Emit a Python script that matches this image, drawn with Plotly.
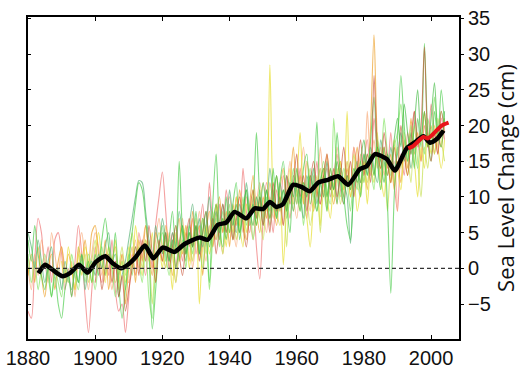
import plotly.graph_objects as go

# ---- data ----
x_ticks = [1880, 1900, 1920, 1940, 1960, 1980, 2000]
y_ticks = [-5, 0, 5, 10, 15, 20, 25, 30, 35]

avg_years = [1883.1, 1885.1, 1887.3, 1890.2, 1892.7, 1895.2, 1897.7, 1900.2, 1903.0, 1905.2,
             1907.7, 1909.7, 1912.1, 1914.8, 1917.3, 1920.1, 1923.6, 1926.6, 1931.0, 1933.5,
             1936.5, 1939.0, 1941.5, 1945.0, 1947.5, 1950.0, 1952.0, 1953.9, 1955.9, 1958.9,
             1961.4, 1963.9, 1966.4, 1969.3, 1972.3, 1975.3, 1978.8, 1980.8, 1983.3, 1986.8,
             1989.2, 1992.7, 1995.6, 1997.7, 1999.7, 2001.7, 2003.7]
avg_level = [-0.7, 0.5, -0.2, -1.1, -0.6, 0.5, -0.6, 0.9, 1.7, 0.7,
             0.0, 0.5, 1.6, 3.2, 1.4, 2.9, 2.3, 3.4, 4.3, 4.0,
             6.1, 6.4, 7.9, 7.0, 8.4, 8.3, 9.3, 8.6, 9.0, 11.7,
             11.4, 10.8, 12.0, 12.4, 12.9, 11.7, 13.9, 14.3, 16.0, 15.3,
             13.7, 16.8, 17.8, 18.5, 17.6, 18.1, 19.3]

sat_years = [1993.2, 1994.6, 1997.7, 1999.1, 2003.2, 2005.2]
sat_level = [16.8, 17.1, 18.4, 18.2, 20.0, 20.4]

gauge_a_start = 1880
gauge_a = [-6, -7, 1, 7, 5, 0, 3, -2, 4, 5,
           2, -3, 0, -4, 1, 6, 2, -4, -9, -3,
           3, 0, -2, 2, -1, 4, -3, -6, -5, -9,
           -4, 2, -1, 5, 2, -1, 4, 0, 6, 10,
           13.5, 8, 2, 5, 0, 4, 1, 6, 3, 7,
           2, 5, 9, 3, 12, 6, 4, 9, 5, 11,
           7, 4, 10, 6, 14, 8, 5, 10, 3, -1.5,
           7, 12, 9, 5, 11, 8, 13, 10, 7, 12,
           9, 14, 10, 7, 13, 11, 15, 9, 12, 14,
           10, 13, 16, 11, 9, 13, 12, 17, 14, 11,
           15, 18, 13, 21, 16, 12, 17, 14, 19, 12,
           8, 16, 13, 19, 16, 22, 18, 15, 20, 17,
           23, 19, 16, 21, 18]

gauge_b_start = 1880
gauge_b = [4, 1, 6, 2, -1, -3, 0, -4, -1, -5,
           -7, -3, -1, -4, 0, -2, 2, -1, 1, -2,
           2, -1, 4, 7, 3, 0, 5, -2, -7, -3,
           1, 5, 9, 12, 11, 7, 2, -8.5, -3, 3,
           6, 1, 4, 8, 2, 15, 5, 1, 6, 3,
           8, 2, 7, 5, -2, 9, 16, 6, 3, 10,
           5, 9, 12, 4, 8, 11, 6, 9, 19, 10,
           6, 11, 8, 14, 7, 12, 15, 9, 5, 13,
           11, 8, 14, 16, 9, 12, 20.5, 10, 13, 8,
           14, 11, 19, 13, 10, 6, 4, 12, 15, 10,
           16, 13, 18, 24, 15, 11, 17, 9, -3.5, 10,
           18, 27, 20, 15, 19, 14, 21, 17, 31.5, 19,
           15, 22, 18, 25, 20]

gauge_c_start = 1880
gauge_c = [-1, 2, -2, 3, -1, -4, 0, 2, -3, 1,
           3, -1, 2, 0, -3, 3, 1, 4, 0, 5,
           6, 2, 0, 4, -3, 1, 3, -1, 2, -5,
           0, 3, -2, 4, 1, 6, 2, -1, 5, 3,
           1, 6, 3, -1, 4, 7, 2, 5, 1, 8,
           4, 6, -1, 5, 8, 3, 7, 10, 5, 8,
           3, 9, 6, 11, 7, 4, 9, 13, 8, 5,
           10, 7, 12, 9, 6, 11, 14, 8, 12, 17,
           10, 13, 9, 15, 12, 8, 11, 14, 10, 16,
           12, 9, 13, 15, 11, 14, 10, 13, 17, 12,
           15, 11, 20, 32.7, 18, 14, 17, 13, 16, 11,
           15, 12, 18, 14, 21, 16, 19, 15, 22, 17,
           20, 16, 19, 17, 21]

gauge_d_start = 1890
gauge_d = [1, -2, 3, 0, -3, 2, -1, 3, 1, -2,
           2, 5, 1, -2, 3, 0, 4, -3, 1, -2,
           3, 0, 6, 2, -1, 4, 1, 5, -2, 3,
           0, 4, 2, -3, 5, 1, 3, 6, 0, 4,
           7, -5, 3, 6, 2, 5, 9, 4, 7, 3,
           8, 5, 10, 6, 3, 9, 7, 11, 6, 9,
           12, 8, 28.5, 10, 7, 11, 0.5, 9, 14, 8,
           12, 19, 10, 7, 3, 9, 12, 6, 14, 10,
           7, 12, 9, 15, 11, 22, 10, 13, 8, 11,
           15, 9, 14, 12, 17, 13, 10, 15, 12, 18,
           14, 11, 16, 13, 18, 15, 10, 17, 14, 19,
           16, 20, 17, 14, 18]

gauge_e_start = 1900
gauge_e = [-2, 1, -3, 0, 2, -2, 1, -4, -1, -6,
           -3, 0, 3, -1, 4, 1, 6, 2, -2, 4,
           1, 5, 0, 3, 6, 2, -1, 4, 7, 3,
           6, 1, 5, 8, 4, 7, 2, 6, 9, 5,
           8, 4, 7, 10, 6, 3, 8, 11, 7, 10,
           6, 9, 5, 12, 8, 10, 6, 13, 9, 12,
           16, 10, 13, 8, 12, 15, 11, 9, 13, 16,
           11, 14, 10, 13, 17, 12, 15, 10, 14, 18,
           13, 16, 12, 27, 17, 14, 19, 15, 12, 17,
           14, 20, 16, 13, 18, 22, 17, 20, 31, 18,
           15, 19, 16, 22, 19]

gauge_f_start = 1880
gauge_f = [2, -2, 1, -3, 0, 2, -1, -4, 0, -2,
           -4, 0, -2, 2, -1, -3, 1, -2, 2, 0,
           -3, 1, 3, -1, 2, 0, -4, -1, 1, -3,
           2, -1, 3, 1, -2, 3, -4, -7, 0, 3,
           5, 2, -1, 3, 6, 1, 4, 0, 5, 2,
           6, 3, 0, 5, -3, 4, 7, 3, 8, 5,
           9, 4, 7, 5, 10, 6, 9, 4, 8, 11,
           7, 10, 6, 9, 13, 8, 11, 7, 10, 14,
           9, 12, 6, 11, 14, 10, 8, 12, 15, 11,
           9, 21, 13, 10, 14, 12, 8, 13, 11, 15,
           12, 16, 14, 11, 18, 15, 21, 16, 13, 17,
           19, 23, 18, 15, 20, 17, 14, 19, 16, 21,
           18, 24, 19, 22, 20]

gauge_g_start = 1880
gauge_g = [5, 3, 0, 4, 1, -2, 1, 3, -1, 0,
           -3, 1, -1, -3, 0, -2, 2, -3, 0, 1,
           -1, 2, 0, 3, 5, 1, 2, -4, -1, 1,
           4, 7, 10, 12.3, 12, 8, 4, 1, 6, 3,
           7, 4, 1, 5, 3, 8, 5, 2, 6, 9,
           4, 7, 3, 6, 10, 5, 8, 4, 9, 6,
           11, 7, 5, 9, 7, 12, 8, 6, 10, 8,
           12, 9, 14, 10, 7, 12, 9, 13, 11, 8,
           12, 10, 7, 13, 11, 14, 9, 12, 10, 15,
           11, 13, 9, 14, 12, 10, 3.5, 11, 14, 12,
           16, 13, 17, 14, 12, 18, 15, 13, 17, 14,
           16, 19, 15, 17, 14, 18]

gauge_h_start = 1895
gauge_h = [3, 0, 2, -2, 1, 4, 0, 2, -1, 3,
           1, -2, 0, 3, -1, 2, 5, 1, 3, 0,
           4, 2, -5, 2, 5, 3, 0, 4, 2, -2,
           3, 6, 2, 4, 1, 5, 3, 7, 2, 5,
           8, 4, 6, 2, 7, 5, 8, 4, 7, 9,
           5, 8, 6, 10, 7, 4, 9, 7, 11, 8,
           6, 10, 3, 12, 9, 11, 8, 12, 10, 6,
           9, 13, 5, 11, 8, 12, 10, 14, 9, 12,
           15, 11, 16, 12, 10, 14, 12, 16, 13, 19,
           11, 15, 8, 14, 12, 17, 14, 19, 16, 12,
           20, 15, 10, 17, 14, 19, 16, 21, 18, 15]

gauge_i_start = 1880
gauge_i = [0, -3, 2, -1, 4, 1, -2, 5, 2, -1,
           3, 0, -2, 1, -4, 2, 5, 1, -3, 2,
           5, 3, -1, 2, 0, -3, 1, -2, 2, 0,
           -2, 1, 4, 0, 3, 6, 2, 0, 4, 7,
           3, 0, 5, 2, -2, 3, 7, 2, 5, 0,
           4, 8, 4, 1, 6, 3, 9, 5, 2, 7,
           10, 6, 3, 8, 5, 10, 7, 4, 9, 12,
           8, 5, 10, 7, 13, 9, 6, 11, 15, 10,
           7, 12, 17, 11, 8, 13, 10, 17, 12, 9,
           14, 11, 17, 13, 10, 15, 12, 17, 13, 16,
           12, 22, 15, 18, 14, 17, 13, 16, 12, 15,
           8]

gauge_j_start = 1920
gauge_j = [2, 5, 1, 4, 0, 3, 6, 2, 5, 3,
           6, 2, 5, 8, 3, 6, 9, 5, 7, 4,
           8, 6, 9, 5, 8, 11, 7, 9, 6, 10,
           8, 11, 7, 10, 13, 9, 11, 8, 12, 10,
           14, 9, 12, 10, 13, 11, 8, 12, 14, 10,
           13, 11, 15, 12, 9, 13, 11, 14, 12, 15,
           18, 14, 16, 13, 17, 15, 12, 16, 14, 18,
           21, 17, 23, 19, 16, 20, 25, 18, 22, 17,
           21, 26, 19, 17, 22]

gauges = [
    (gauge_a_start, gauge_a, "rgba(240,120,120,0.7)"),
    (gauge_i_start, gauge_i, "rgba(248,170,120,0.7)"),
    (gauge_c_start, gauge_c, "rgba(236,160,40,0.7)"),
    (gauge_d_start, gauge_d, "rgba(232,224,60,0.75)"),
    (gauge_h_start, gauge_h, "rgba(200,224,90,0.75)"),
    (gauge_f_start, gauge_f, "rgba(140,230,110,0.75)"),
    (gauge_g_start, gauge_g, "rgba(90,180,120,0.7)"),
    (gauge_b_start, gauge_b, "rgba(80,205,80,0.7)"),
    (gauge_e_start, gauge_e, "rgba(200,80,50,0.65)"),
    (gauge_j_start, gauge_j, "rgba(60,185,60,0.65)"),
]

FONT = "Liberation Sans, Arial, sans-serif"

fig = go.Figure()

for start, vals, col in gauges:
    yrs = [start + i for i in range(len(vals))]
    fig.add_trace(go.Scatter(x=yrs, y=vals, mode="lines",
                             line=dict(color=col, width=1.1, shape="spline", smoothing=0.8),
                             hoverinfo="skip", showlegend=False))

# zero reference
fig.add_trace(go.Scatter(x=[1880, 2008.3], y=[0, 0], mode="lines", yaxis="y2",
                         line=dict(color="#333333", width=1.3, dash="4px,3px"),
                         showlegend=False, hoverinfo="skip"))

fig.add_trace(go.Scatter(x=avg_years, y=avg_level, mode="lines",
                         line=dict(color="black", width=4.5, shape="spline", smoothing=0.6),
                         showlegend=False))
fig.add_trace(go.Scatter(x=sat_years, y=sat_level, mode="lines",
                         line=dict(color="#e8141a", width=4, shape="spline", smoothing=0.6),
                         showlegend=False))

yr = [-9.9, 35.2]
fig.update_layout(
    width=526, height=372,
    margin=dict(l=28, r=67, t=17, b=33),
    paper_bgcolor="white", plot_bgcolor="white",
    font=dict(family=FONT, size=20, color="#111111"),
    xaxis=dict(range=[1880, 2008.3], tickvals=x_ticks, ticks="inside", ticklen=4,
               tickwidth=1.2, tickcolor="black", automargin=False,
               showline=True, linecolor="black", linewidth=2, mirror="ticks",
               showgrid=False, zeroline=False,
               tickfont=dict(family=FONT, size=20, color="#111111")),
    yaxis=dict(range=yr, side="right", tickvals=y_ticks, ticks="outside", ticklen=3,
               tickwidth=1.2, tickcolor="black", automargin=False,
               showline=True, linecolor="black", linewidth=2, mirror=True,
               showgrid=False, zeroline=False,
               tickfont=dict(family=FONT, size=20, color="#111111"),
               title=dict(text="Sea Level Change (cm)",
                          font=dict(family="Open Sans, sans-serif", size=22, color="#111111"),
                          standoff=2)),
    yaxis2=dict(range=yr, overlaying="y", side="left", tickvals=y_ticks, ticks="inside",
                ticklen=3, tickwidth=1.2, tickcolor="black", showticklabels=False,
                automargin=False,
                showline=False, showgrid=False, zeroline=False),
)

fig.write_html("out.html", config={"displayModeBar": False},
               post_script="document.body.style.margin='0';document.body.style.padding='0';")
